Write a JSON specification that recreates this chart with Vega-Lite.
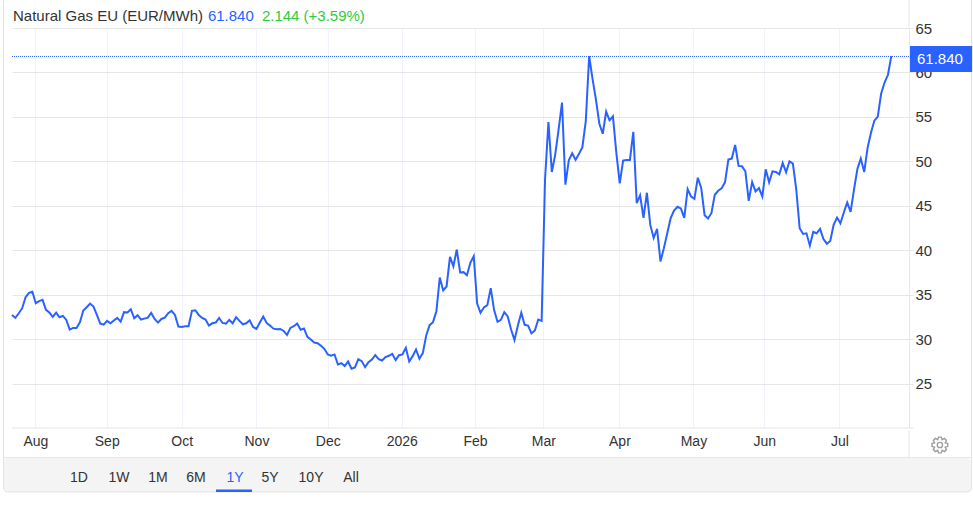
{
  "$schema": "https://vega.github.io/schema/vega-lite/v6.json",
  "width": 897,
  "height": 400,
  "autosize": {"type": "none"},
  "padding": {"left": 12, "top": 28, "right": 64, "bottom": 79},
  "background": "white",
  "data": {"values": [{}]},
  "config": {
    "view": {"stroke": null},
    "text": {"font": "Liberation Sans", "fontSize": 14, "color": "#333333"}
  },
  "layer": [
    {
      "mark": {"type": "rect", "fill": "#f4f4f4", "cornerRadius": 4},
      "encoding": {
        "x": {"datum": -2.36, "type": "quantitative"},
        "x2": {"datum": 282.5},
        "y": {"datum": 16.66, "type": "quantitative"},
        "y2": {"datum": 12.84}
      }
    },
    {
      "mark": {"type": "rect", "fill": null, "stroke": "#e4e4e4", "strokeWidth": 1, "cornerRadius": 4},
      "encoding": {
        "x": {"datum": -2.5, "type": "quantitative"},
        "x2": {"datum": 282.6},
        "y": {"datum": 69.3, "type": "quantitative"},
        "y2": {"datum": 12.84}
      }
    },
    {
      "mark": {"type": "rule", "color": "#e6e6e6"},
      "encoding": {
        "x": {"datum": -2.36, "type": "quantitative"},
        "x2": {"datum": 282.5},
        "y": {"datum": 16.72, "type": "quantitative"}
      }
    },
    {
      "mark": {"type": "rule", "color": "#e6e6e6"},
      "encoding": {
        "x": {"datum": 264.2, "type": "quantitative"},
        "y": {"datum": 19.69, "type": "quantitative"},
        "y2": {"datum": 16.72}
      }
    },
    {
      "mark": {"type": "rule", "color": "#e6e6e6"},
      "encoding": {
        "x": {"datum": 264.2, "type": "quantitative"},
        "y": {"datum": 69.3, "type": "quantitative"},
        "y2": {"datum": 65}
      }
    },
    {
      "mark": {"type": "rule", "color": "#e6e6e6"},
      "encoding": {
        "x": {"datum": 0, "type": "quantitative"},
        "x2": {"datum": 265.6},
        "y": {"datum": 20.03, "type": "quantitative"}
      }
    },
    {
      "mark": {"type": "rule", "color": "#2962ff", "strokeWidth": 1, "strokeDash": [1, 1]},
      "encoding": {
        "x": {"datum": 0, "type": "quantitative"},
        "x2": {"datum": 264.2},
        "y": {"datum": 61.8, "type": "quantitative"}
      }
    },
    {
      "data": {"name": "prices", "values": [
        {"session":0,"price":32.74},{"session":1,"price":32.41},{"session":2,"price":32.93},{"session":3,"price":33.5},{"session":4,"price":34.74},
        {"session":5,"price":35.23},{"session":6,"price":35.34},{"session":7,"price":34.06},{"session":8,"price":34.29},{"session":9,"price":34.44},
        {"session":10,"price":33.31},{"session":11,"price":33.01},{"session":12,"price":32.52},{"session":13,"price":33.01},{"session":14,"price":32.48},
        {"session":15,"price":32.63},{"session":16,"price":32.18},{"session":17,"price":31.09},{"session":18,"price":31.28},{"session":19,"price":31.28},
        {"session":20,"price":31.92},{"session":21,"price":33.23},{"session":22,"price":33.61},{"session":23,"price":34.02},{"session":24,"price":33.68},
        {"session":25,"price":32.74},{"session":26,"price":31.77},{"session":27,"price":31.65},{"session":28,"price":32.07},{"session":29,"price":31.8},
        {"session":30,"price":32.11},{"session":31,"price":32.41},{"session":32,"price":31.99},{"session":33,"price":33.05},{"session":34,"price":33.01},
        {"session":35,"price":33.38},{"session":36,"price":32.37},{"session":37,"price":32.71},{"session":38,"price":32.22},{"session":39,"price":32.33},
        {"session":40,"price":32.44},{"session":41,"price":32.97},{"session":42,"price":32.29},{"session":43,"price":31.88},{"session":44,"price":32.29},
        {"session":45,"price":32.44},{"session":46,"price":32.93},{"session":47,"price":33.2},{"session":48,"price":32.74},{"session":49,"price":31.43},
        {"session":50,"price":31.39},{"session":51,"price":31.47},{"session":52,"price":31.47},{"session":53,"price":33.2},{"session":54,"price":33.27},
        {"session":55,"price":32.74},{"session":56,"price":32.41},{"session":57,"price":32.22},{"session":58,"price":31.54},{"session":59,"price":31.8},
        {"session":60,"price":31.88},{"session":61,"price":32.41},{"session":62,"price":31.84},{"session":63,"price":31.77},{"session":64,"price":32.18},
        {"session":65,"price":31.8},{"session":66,"price":32.48},{"session":67,"price":32.07},{"session":68,"price":31.69},{"session":69,"price":31.8},
        {"session":70,"price":32.14},{"session":71,"price":31.39},{"session":72,"price":31.17},{"session":73,"price":31.88},{"session":74,"price":32.56},
        {"session":75,"price":31.84},{"session":76,"price":31.54},{"session":77,"price":31.2},{"session":78,"price":31.13},{"session":79,"price":31.17},
        {"session":80,"price":30.94},{"session":81,"price":30.49},{"session":82,"price":31.28},{"session":83,"price":31.47},{"session":84,"price":31.77},
        {"session":85,"price":31.07},{"session":86,"price":31.22},{"session":87,"price":30.28},{"session":88,"price":29.98},{"session":89,"price":29.64},
        {"session":90,"price":29.57},{"session":91,"price":29.27},{"session":92,"price":28.93},{"session":93,"price":28.3},{"session":94,"price":28.15},
        {"session":95,"price":28.3},{"session":96,"price":27.17},{"session":97,"price":27.32},{"session":98,"price":26.99},{"session":99,"price":27.51},
        {"session":100,"price":26.69},{"session":101,"price":26.84},{"session":102,"price":27.77},{"session":103,"price":27.55},{"session":104,"price":26.87},
        {"session":105,"price":27.43},{"session":106,"price":27.73},{"session":107,"price":28.22},{"session":108,"price":27.77},{"session":109,"price":27.62},
        {"session":110,"price":28.0},{"session":111,"price":28.15},{"session":112,"price":28.37},{"session":113,"price":27.66},{"session":114,"price":28.22},
        {"session":115,"price":28.3},{"session":116,"price":29.04},{"session":117,"price":27.51},{"session":118,"price":28.11},{"session":119,"price":28.86},
        {"session":120,"price":27.81},{"session":121,"price":28.45},{"session":122,"price":30.43},{"session":123,"price":31.59},{"session":124,"price":31.93},
        {"session":125,"price":33.16},{"session":126,"price":36.95},{"session":127,"price":35.49},{"session":128,"price":35.94},{"session":129,"price":39.27},
        {"session":130,"price":38.22},{"session":131,"price":40.09},{"session":132,"price":37.51},{"session":133,"price":37.55},{"session":134,"price":37.21},
        {"session":135,"price":38.6},{"session":136,"price":39.34},{"session":137,"price":34.03},{"session":138,"price":32.98},{"session":139,"price":33.58},
        {"session":140,"price":33.84},{"session":141,"price":35.75},{"session":142,"price":33.28},{"session":143,"price":31.97},{"session":144,"price":32.19},
        {"session":145,"price":33.05},{"session":146,"price":32.57},{"session":147,"price":31.1},{"session":148,"price":29.91},{"session":149,"price":31.55},
        {"session":150,"price":32.98},{"session":151,"price":31.63},{"session":152,"price":31.55},{"session":153,"price":30.66},{"session":154,"price":30.99},
        {"session":155,"price":32.23},{"session":156,"price":32.08},{"session":157,"price":47.97},{"session":158,"price":54.43},{"session":159,"price":48.81},
        {"session":160,"price":50.77},{"session":161,"price":53.6},{"session":162,"price":56.61},{"session":163,"price":47.38},{"session":164,"price":50.13},
        {"session":165,"price":50.92},{"session":166,"price":50.17},{"session":167,"price":50.85},{"session":168,"price":51.6},{"session":169,"price":54.54},
        {"session":170,"price":61.84},{"session":171,"price":59.25},{"session":172,"price":56.91},{"session":173,"price":54.24},{"session":174,"price":53.11},
        {"session":175,"price":55.59},{"session":176,"price":54.61},{"session":177,"price":55.07},{"session":178,"price":50.96},{"session":179,"price":47.53},
        {"session":180,"price":50.09},{"session":181,"price":50.17},{"session":182,"price":50.17},{"session":183,"price":53.33},{"session":184,"price":45.31},
        {"session":185,"price":46.18},{"session":186,"price":43.65},{"session":187,"price":46.48},{"session":188,"price":42.86},{"session":189,"price":41.39},
        {"session":190,"price":42.41},{"session":191,"price":38.76},{"session":192,"price":40.23},{"session":193,"price":41.92},{"session":194,"price":43.62},
        {"session":195,"price":44.48},{"session":196,"price":44.9},{"session":197,"price":44.71},{"session":198,"price":43.65},{"session":199,"price":46.89},
        {"session":200,"price":46.06},{"session":201,"price":45.8},{"session":202,"price":48.17},{"session":203,"price":47.01},{"session":204,"price":43.95},
        {"session":205,"price":43.58},{"session":206,"price":44.18},{"session":207,"price":46.25},{"session":208,"price":46.7},{"session":209,"price":46.97},
        {"session":210,"price":47.65},{"session":211,"price":50.21},{"session":212,"price":50.32},{"session":213,"price":51.86},{"session":214,"price":49.49},
        {"session":215,"price":49.45},{"session":216,"price":48.89},{"session":217,"price":45.57},{"session":218,"price":47.68},{"session":219,"price":46.63},
        {"session":220,"price":47.01},{"session":221,"price":46.06},{"session":222,"price":49.11},{"session":223,"price":47.65},{"session":224,"price":48.89},
        {"session":225,"price":48.81},{"session":226,"price":48.55},{"session":227,"price":49.83},{"session":228,"price":48.78},{"session":229,"price":50.02},
        {"session":230,"price":49.76},{"session":231,"price":46.82},{"session":232,"price":42.49},{"session":233,"price":41.85},{"session":234,"price":41.92},
        {"session":235,"price":40.53},{"session":236,"price":42.07},{"session":237,"price":41.92},{"session":238,"price":42.41},{"session":239,"price":41.28},
        {"session":240,"price":40.75},{"session":241,"price":41.05},{"session":242,"price":42.86},{"session":243,"price":43.69},{"session":244,"price":43.05},
        {"session":245,"price":44.26},{"session":246,"price":45.39},{"session":247,"price":44.33},{"session":248,"price":46.82},{"session":249,"price":49.15},
        {"session":250,"price":50.32},{"session":251,"price":48.81},{"session":252,"price":51.53},{"session":253,"price":53.22},{"session":254,"price":54.58},
        {"session":255,"price":55.03},{"session":256,"price":57.63},{"session":257,"price":58.87},{"session":258,"price":59.74},{"session":259,"price":61.84}
      ]},
      "mark": {"type": "line", "color": "#2962ff", "strokeWidth": 2},
      "encoding": {
        "x": {
          "field": "session",
          "type": "quantitative",
          "scale": {"domain": [0, 264.2], "nice": false, "zero": false},
          "axis": {
            "title": null,
            "orient": "bottom",
            "values": [6.9, 27.9, 50, 72, 93, 114.8, 136.4, 156.5, 178.9, 200.7, 221.6, 243.7],
            "labelExpr": "['Aug','Sep','Oct','Nov','Dec','2026','Feb','Mar','Apr','May','Jun','Jul'][indexof([6.9,27.9,50,72,93,114.8,136.4,156.5,178.9,200.7,221.6,243.7],datum.value)]",
            "grid": true,
            "gridColor": "#f0f3fa",
            "ticks": false,
            "domain": false,
            "labelFont": "Liberation Sans",
            "labelFontSize": 14,
            "labelColor": "#333333",
            "labelPadding": 6,
            "labelOverlap": false,
            "labelFlush": false
          }
        },
        "y": {
          "field": "price",
          "type": "quantitative",
          "scale": {"domain": [20.03, 65], "nice": false, "zero": false},
          "axis": {
            "title": null,
            "orient": "right",
            "values": [25, 30, 35, 40, 45, 50, 55, 60, 65],
            "grid": true,
            "gridColor": "#e6e6e6",
            "tickColor": "#e6e6e6",
            "tickSize": 4,
            "domain": true,
            "domainColor": "#e6e6e6",
            "labelFont": "Liberation Sans",
            "labelFontSize": 15,
            "labelColor": "#333333",
            "labelPadding": 2,
            "labelOverlap": false
          }
        }
      }
    },
    {
      "mark": {"type": "rect", "fill": "#2962ff"},
      "encoding": {
        "x": {"datum": 264.5, "type": "quantitative"},
        "x2": {"datum": 282.8},
        "y": {"datum": 62.98, "type": "quantitative"},
        "y2": {"datum": 60.05}
      }
    },
    {
      "mark": {"type": "text", "text": "61.840", "color": "white", "fontSize": 15},
      "encoding": {
        "x": {"datum": 273.3, "type": "quantitative"},
        "y": {"datum": 61.46, "type": "quantitative"}
      }
    },
    {
      "mark": {"type": "text", "text": "Natural Gas EU (EUR/MWh)", "align": "left", "fontSize": 15},
      "encoding": {
        "x": {"datum": 0.29, "type": "quantitative"},
        "y": {"datum": 66.35, "type": "quantitative"}
      }
    },
    {
      "mark": {"type": "text", "text": "61.840", "align": "left", "color": "#2962ff", "fontSize": 15},
      "encoding": {
        "x": {"datum": 57.7, "type": "quantitative"},
        "y": {"datum": 66.35, "type": "quantitative"}
      }
    },
    {
      "mark": {"type": "text", "text": "2.144 (+3.59%)", "align": "left", "color": "#2ecc40", "fontSize": 15},
      "encoding": {
        "x": {"datum": 73.6, "type": "quantitative"},
        "y": {"datum": 66.35, "type": "quantitative"}
      }
    },
    {"mark": {"type": "text", "text": "1D"}, "encoding": {"x": {"datum": 19.73, "type": "quantitative"}, "y": {"datum": 14.41, "type": "quantitative"}}},
    {"mark": {"type": "text", "text": "1W"}, "encoding": {"x": {"datum": 31.5, "type": "quantitative"}, "y": {"datum": 14.41, "type": "quantitative"}}},
    {"mark": {"type": "text", "text": "1M"}, "encoding": {"x": {"datum": 43, "type": "quantitative"}, "y": {"datum": 14.41, "type": "quantitative"}}},
    {"mark": {"type": "text", "text": "6M"}, "encoding": {"x": {"datum": 54.2, "type": "quantitative"}, "y": {"datum": 14.41, "type": "quantitative"}}},
    {"mark": {"type": "text", "text": "1Y", "color": "#2962ff"}, "encoding": {"x": {"datum": 65.7, "type": "quantitative"}, "y": {"datum": 14.41, "type": "quantitative"}}},
    {"mark": {"type": "text", "text": "5Y"}, "encoding": {"x": {"datum": 76, "type": "quantitative"}, "y": {"datum": 14.41, "type": "quantitative"}}},
    {"mark": {"type": "text", "text": "10Y"}, "encoding": {"x": {"datum": 88.07, "type": "quantitative"}, "y": {"datum": 14.41, "type": "quantitative"}}},
    {"mark": {"type": "text", "text": "All"}, "encoding": {"x": {"datum": 99.85, "type": "quantitative"}, "y": {"datum": 14.41, "type": "quantitative"}}},
    {
      "mark": {"type": "rule", "color": "#2962ff", "strokeWidth": 2.5},
      "encoding": {
        "x": {"datum": 60.09, "type": "quantitative"},
        "x2": {"datum": 70.69},
        "y": {"datum": 12.98, "type": "quantitative"}
      }
    },
    {
      "mark": {
        "type": "point",
        "filled": false,
        "stroke": "#777777",
        "strokeWidth": 1.4,
        "size": 256,
        "shape": "M0.985 0.174L0.665 0.276L0.819 0.574L0.574 0.819L0.276 0.665L0.174 0.985L-0.174 0.985L-0.276 0.665L-0.574 0.819L-0.819 0.574L-0.665 0.276L-0.985 0.174L-0.985 -0.174L-0.665 -0.276L-0.819 -0.574L-0.574 -0.819L-0.276 -0.665L-0.174 -0.985L0.174 -0.985L0.276 -0.665L0.574 -0.819L0.819 -0.574L0.665 -0.276L0.985 -0.174ZM0.33 0A0.33 0.33 0 1 1 -0.33 0A0.33 0.33 0 1 1 0.33 0Z"
      },
      "encoding": {
        "x": {"datum": 273.3, "type": "quantitative"},
        "y": {"datum": 18.12, "type": "quantitative"}
      }
    }
  ]
}
